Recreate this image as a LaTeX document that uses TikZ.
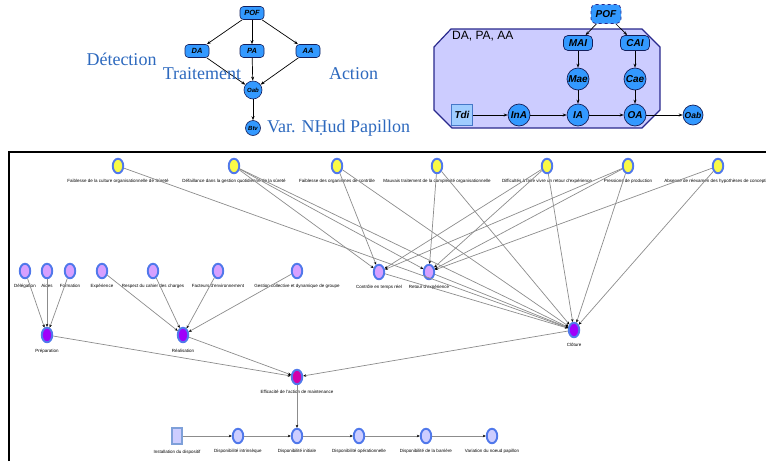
\documentclass[tikz,border=0pt]{standalone}
\usepackage{fontspec}
\setmainfont{Liberation Serif}
\setsansfont{Liberation Sans}
\usetikzlibrary{shapes.misc,shapes.geometric,arrows.meta}

\definecolor{nodeblue}{RGB}{51,153,255}
\definecolor{nodeedge}{RGB}{20,30,90}
\definecolor{labelblue}{RGB}{45,105,190}
\definecolor{panelfill}{RGB}{204,204,255}
\definecolor{paneledge}{RGB}{40,40,140}
\definecolor{ringblue}{RGB}{80,120,235}
\definecolor{varyellow}{RGB}{250,250,70}
\definecolor{varviolet}{RGB}{215,160,255}
\definecolor{varpurple}{RGB}{160,0,250}
\definecolor{varmagenta}{RGB}{210,0,170}
\definecolor{varpale}{RGB}{205,205,255}
\definecolor{linkgray}{RGB}{140,140,140}
\definecolor{tdifill}{RGB}{160,205,255}
\definecolor{tdiedge}{RGB}{70,120,200}

\tikzset{
  % small causal graph
  octsmall/.style={rectangle, rounded corners=3.5pt,
    minimum width=24, minimum height=13, inner sep=0, fill=nodeblue, draw=nodeedge, line width=0.6,
    font=\sffamily\bfseries\itshape\fontsize{7.5}{8}\selectfont},
  circsmall/.style={circle, inner sep=0, fill=nodeblue, draw=nodeedge, line width=0.6,
    font=\sffamily\bfseries\itshape\fontsize{6}{7}\selectfont},
  octbig/.style={rectangle, rounded corners=4.5pt,
    minimum width=29, minimum height=15, inner sep=0, fill=nodeblue, draw=nodeedge, line width=0.7,
    font=\sffamily\bfseries\itshape\fontsize{10}{11}\selectfont},
  circbig/.style={circle, minimum size=22, inner sep=0, fill=nodeblue, draw=nodeedge, line width=0.7,
    font=\sffamily\bfseries\itshape\fontsize{10}{11}\selectfont},
  link/.style={draw=black, line width=0.7, -{Stealth[length=4pt,width=3pt]}},
  bluetxt/.style={text=labelblue, font=\fontsize{18}{20}\selectfont, inner sep=0},
  % network variables
  var/.style={ellipse, minimum width=10.5, minimum height=14.5, inner sep=0, draw=ringblue, line width=1.9},
  vyellow/.style={var, fill=varyellow},
  vviolet/.style={var, fill=varviolet},
  vpurple/.style={var, fill=varpurple},
  vmagenta/.style={var, fill=varmagenta},
  vpale/.style={var, fill=varpale},
  lbl/.style={font=\sffamily\fontsize{4.5}{5}\selectfont, inner sep=0},
  arc/.style={draw=linkgray, line width=0.7, -{Stealth[length=3pt,width=2.6pt,color=black]}},
}

\begin{document}
\begin{tikzpicture}[x=1pt,y=-1pt]
\useasboundingbox (0,0) rectangle (766,461);

% ---------- small causal graph ----------
\node[octsmall] (aPOF) at (252,13) {POF};
\node[octsmall] (aDA) at (197,51) {DA};
\node[octsmall] (aPA) at (252,51) {PA};
\node[octsmall] (aAA) at (308,51) {AA};
\node[circsmall, minimum size=18] (aOab) at (253,90) {Oab};
\node[circsmall, minimum size=15] (aBtv) at (253,128) {Btv};

\draw[link] (aPOF) -- (aDA);
\draw[link] (aPOF) -- (aPA);
\draw[link] (aPOF) -- (aAA);
\draw[link] (aDA) -- (aOab);
\draw[link] (aPA) -- (aOab);
\draw[link] (aAA) -- (aOab);
\draw[link] (aOab) -- (aBtv);

\node[bluetxt] (tDet) at (121.5,59) {Détection};
\node[bluetxt] (tTrt) at (202,74) {Traitement};
\node[bluetxt] (tAct) at (353.5,74) {Action};
\node[bluetxt, anchor=west] (tVar) at (267,128) {Var. NḤud Papillon};

% ---------- detailed barrier graph ----------
\draw[fill=panelfill, draw=paneledge, line width=1.2]
  (434,47) -- (451,29) -- (642,29) -- (660,47) -- (660,110) -- (642,128) -- (452,128) -- (434,110) -- cycle;
\node[anchor=west, inner sep=0, font=\sffamily\fontsize{12}{13}\selectfont] (tDPA) at (452,36) {DA, PA, AA};

\node[octbig, minimum width=30, minimum height=19, dashed, draw=paneledge] (bPOF) at (606,14) {POF};
\node[octbig] (bMAI) at (578,43) {MAI};
\node[octbig] (bCAI) at (635,43) {CAI};
\node[circbig] (bMae) at (578,79) {Mae};
\node[circbig] (bCae) at (635,79) {Cae};
\node[rectangle, minimum size=21, inner sep=0, fill=tdifill, draw=tdiedge, line width=0.8,
  font=\sffamily\bfseries\itshape\fontsize{10}{11}\selectfont] (bTdi) at (462,115) {Tdi};
\node[circbig] (bInA) at (519,115) {InA};
\node[circbig] (bIA) at (578,115) {IA};
\node[circbig] (bOA) at (635,115) {OA};
\node[circbig, minimum size=20, font=\sffamily\bfseries\itshape\fontsize{8.5}{9}\selectfont] (bOab) at (693,115) {Oab};

\draw[link] (bPOF) -- (bMAI);
\draw[link] (bPOF) -- (bCAI);
\draw[link] (bMAI) -- (bMae);
\draw[link] (bCAI) -- (bCae);
\draw[link] (bMae) -- (bIA);
\draw[link] (bCae) -- (bOA);
\draw[link] (bTdi) -- (bInA);
\draw[link] (bInA) -- (bIA);
\draw[link] (bIA) -- (bOA);
\draw[link] (bOA) -- (bOab);

% ---------- Bayesian network ----------
\draw[line width=1.2] (9,461) -- (9,152) -- (766,152);

% organisational factors
\node[vyellow, label={[lbl,label distance=5pt]below:Faiblesse de la culture organisationnelle de Sûreté}] (y1) at (118,166) {};
\node[vyellow, label={[lbl,label distance=5pt]below:Défaillance dans la gestion quotidienne de la sûreté}] (y2) at (234,166) {};
\node[vyellow, label={[lbl,label distance=5pt]below:Faiblesse des organismes de contrôle}] (y3) at (337,166) {};
\node[vyellow, label={[lbl,label distance=5pt]below:Mauvais traitement de la complexité organisationnelle}] (y4) at (437,166) {};
\node[vyellow, label={[lbl,label distance=5pt]below:Difficultés à faire vivre un retour d'expérience}] (y5) at (547,166) {};
\node[vyellow, label={[lbl,label distance=5pt]below:Pressions de production}] (y6) at (628,166) {};
\node[vyellow, label={[lbl,label distance=5pt]below:Absence de réexamen des hypothèses de conception}] (y7) at (718,166) {};

% human factors
\node[vviolet, label={[lbl,label distance=5pt]below:Délégation}] (m1) at (25,271) {};
\node[vviolet, label={[lbl,label distance=5pt]below:Aides}] (m2) at (47,271) {};
\node[vviolet, label={[lbl,label distance=5pt]below:Formation}] (m3) at (70,271) {};
\node[vviolet, label={[lbl,label distance=5pt]below:Expérience}] (m4) at (102,271) {};
\node[vviolet, label={[lbl,label distance=5pt]below:Respect du cahier des charges}] (m5) at (153,271) {};
\node[vviolet, label={[lbl,label distance=5pt]below:Facteurs d'environnement}] (m6) at (218,271) {};
\node[vviolet, label={[lbl,label distance=5pt]below:Gestion collective et dynamique de groupe}] (m7) at (297,271) {};
\node[vviolet, label={[lbl,label distance=5pt]below:Contrôle en temps réel}] (c1) at (379,272) {};
\node[vviolet, label={[lbl,label distance=5pt]below:Retour d'expérience}] (c2) at (429,272) {};

% maintenance phases
\node[vpurple, label={[lbl,label distance=6pt]below:Préparation}] (prep) at (47,335) {};
\node[vpurple, label={[lbl,label distance=6pt]below:Réalisation}] (real) at (183,335) {};
\node[vpurple, label={[lbl,label distance=5pt]below:Clôture}] (clot) at (574,330) {};
\node[vmagenta, label={[lbl,label distance=5pt]below:Efficacité de l'action de maintenance}] (eff) at (297,377) {};

% availability chain
\node[rectangle, minimum width=10, minimum height=16, inner sep=0, fill=varpale, draw=tdiedge!70!white, line width=1.2,
  label={[lbl,label distance=5pt]below:Installation du dispositif}] (d0) at (177,436) {};
\node[vpale, label={[lbl,label distance=5pt]below:Disponibilité intrinsèque}] (d1) at (238,436) {};
\node[vpale, label={[lbl,label distance=5pt]below:Disponibilité initiale}] (d2) at (297,436) {};
\node[vpale, label={[lbl,label distance=5pt]below:Disponibilité opérationnelle}] (d3) at (359,436) {};
\node[vpale, label={[lbl,label distance=5pt]below:Disponibilité de la barrière}] (d4) at (426,436) {};
\node[vpale, label={[lbl,label distance=5pt]below:Variation du noeud papillon}] (d5) at (492,436) {};

% arcs from organisational factors
\draw[arc] (y1) -- (clot);
\draw[arc] (y2) -- (c1);
\draw[arc] (y2) -- (c2);
\draw[arc] (y2) -- (clot);
\draw[arc] (y3) -- (c1);
\draw[arc] (y3) -- (clot);
\draw[arc] (y4) -- (c2);
\draw[arc] (y4) -- (clot);
\draw[arc] (y5) -- (c1);
\draw[arc] (y5) -- (c2);
\draw[arc] (y5) -- (clot);
\draw[arc] (y6) -- (c1);
\draw[arc] (y6) -- (c2);
\draw[arc] (y6) -- (clot);
\draw[arc] (y7) -- (c2);
\draw[arc] (y7) -- (clot);
\draw[arc] (c1) -- (clot);
\draw[arc] (c2) -- (clot);

% arcs towards the phases
\draw[arc] (m1) -- (prep);
\draw[arc] (m2) -- (prep);
\draw[arc] (m3) -- (prep);
\draw[arc] (m4) -- (real);
\draw[arc] (m5) -- (real);
\draw[arc] (m6) -- (real);
\draw[arc] (m7) -- (real);
\draw[arc] (prep) -- (eff);
\draw[arc] (real) -- (eff);
\draw[arc] (clot) -- (eff);
\draw[arc] (eff) -- (d2);

% availability chain arcs
\draw[arc] (d0) -- (d1);
\draw[arc] (d1) -- (d2);
\draw[arc] (d2) -- (d3);
\draw[arc] (d3) -- (d4);
\draw[arc] (d4) -- (d5);
\end{tikzpicture}
\end{document}
